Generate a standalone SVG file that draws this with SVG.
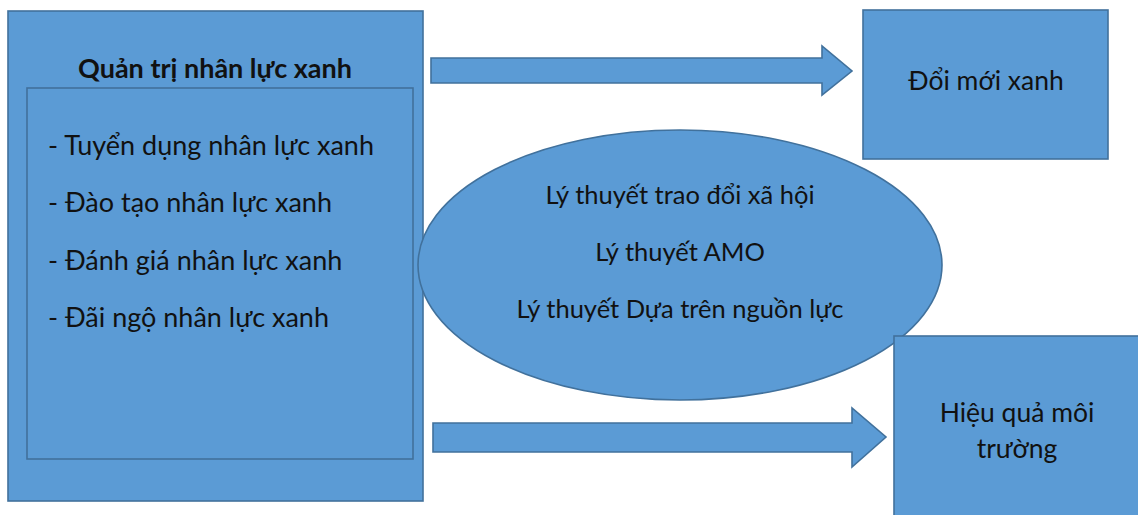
<svg xmlns="http://www.w3.org/2000/svg" width="1138" height="515" viewBox="0 0 1138 515">
  <style>
    .shape { fill: #5B9BD5; stroke: #41719C; stroke-width: 1.6; }
    .label { font-family: Lato, "Open Sans", "Liberation Sans", sans-serif; font-size: 27px; fill: #111; }
    .title { font-weight: bold; }
    .mid { text-anchor: middle; }
    .theory { font-size: 25.5px; }
    .outcome { font-size: 26.5px; }
  </style>
  <rect width="1138" height="515" fill="#ffffff"/>

  <!-- Green HRM block with its list of practices -->
  <g id="node-hrm">
    <rect class="shape" x="8" y="11" width="415" height="490"/>
    <rect class="shape" x="27" y="88" width="386" height="371"/>
    <text class="label title mid" x="215" y="78">Quản trị nhân lực xanh</text>
    <text class="label" x="48" y="155">- Tuyển dụng nhân lực xanh</text>
    <text class="label" x="48" y="212">- Đào tạo nhân lực xanh</text>
    <text class="label" x="48" y="270">- Đánh giá nhân lực xanh</text>
    <text class="label" x="48" y="327">- Đãi ngộ nhân lực xanh</text>
  </g>

  <!-- Underpinning theories -->
  <g id="node-theories">
    <ellipse class="shape" cx="680" cy="265" rx="262" ry="135"/>
    <text class="label theory mid" x="680" y="204">Lý thuyết trao đổi xã hội</text>
    <text class="label theory mid" x="680" y="261">Lý thuyết AMO</text>
    <text class="label theory mid" x="680" y="318">Lý thuyết Dựa trên nguồn lực</text>
  </g>

  <!-- Outcomes -->
  <g id="node-green-innovation">
    <rect class="shape" x="863" y="10" width="245" height="149"/>
    <text class="label outcome mid" x="986" y="90">Đổi mới xanh</text>
  </g>

  <g id="node-environmental-performance">
    <rect class="shape" x="894" y="336" width="250" height="190"/>
    <text class="label outcome mid" x="1017" y="422">Hiệu quả môi</text>
    <text class="label outcome mid" x="1017" y="458">trường</text>
  </g>

  <!-- Block arrows from HRM to the outcomes -->
  <g id="connectors">
    <polygon class="shape" points="431,58 822,58 822,46 852,71 822,95 822,83 431,83"/>
    <polygon class="shape" points="433,423 852,423 852,408 886,437 852,467 852,452 433,452"/>
  </g>
</svg>
